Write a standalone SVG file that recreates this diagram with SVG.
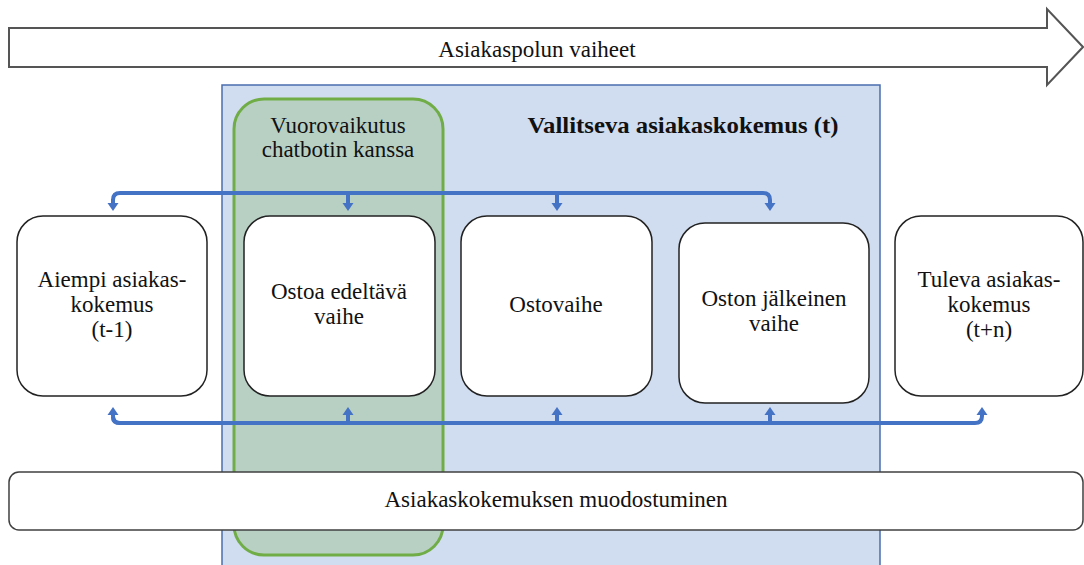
<svg xmlns="http://www.w3.org/2000/svg" width="1084" height="565" viewBox="0 0 1084 565">
  <defs>
    <style>
      text { font-family: "Liberation Serif", Tinos, "Times New Roman", Times, "Noto Serif", "DejaVu Serif", serif; font-size: 23px; fill: #111; text-anchor: middle; }
      .bold { font-weight: bold; font-size: 24px; }
      .node rect { fill: #ffffff; stroke: #222222; stroke-width: 1.5; }
      .conn { fill: none; stroke: #4472C4; stroke-width: 4; stroke-linejoin: round; }
    </style>
    <marker id="ah" markerUnits="userSpaceOnUse" markerWidth="10" markerHeight="12" refX="0" refY="6" orient="auto">
      <path d="M0,0.5 L8,6 L0,11.5 z" fill="#4472C4"/>
    </marker>
  </defs>

  <g id="phases-arrow">
    <polygon points="9,28 1047,28 1047,9 1083,47 1047,85 1047,67 9,67" fill="#ffffff" stroke="#555555" stroke-width="2"/>
    <text x="537" y="57">Asiakaspolun vaiheet</text>
  </g>

  <g id="current-experience">
    <rect x="222" y="85" width="658" height="490" fill="#D0DCEF" stroke="#4A6DAF" stroke-width="1.5"/>
    <text class="bold" x="683" y="133" textLength="311" lengthAdjust="spacingAndGlyphs">Vallitseva asiakaskokemus (t)</text>
  </g>

  <g id="chatbot-interaction">
    <rect x="234" y="99" width="209" height="456" rx="30" fill="#B8D0C4" stroke="#70AD47" stroke-width="3"/>
    <text x="338" y="133">Vuorovaikutus</text>
    <text x="338" y="157">chatbotin kanssa</text>
  </g>

  <g id="connectors">
    <path class="conn" d="M113,203 L113,200 Q113,193 120,193 L763,193 Q770,193 770,200 L770,203" marker-end="url(#ah)"/>
    <path class="conn" d="M113,199 L113,203" marker-end="url(#ah)"/>
    <path class="conn" d="M348,193 L348,203" marker-end="url(#ah)"/>
    <path class="conn" d="M557,193 L557,203" marker-end="url(#ah)"/>
    <path class="conn" d="M120,423 Q113,423 113,416 L113,415" marker-end="url(#ah)"/>
    <path class="conn" d="M113,417 Q113,423 120,423 L975,423 Q982,423 982,416 L982,415" marker-end="url(#ah)"/>
    <path class="conn" d="M348,423 L348,415" marker-end="url(#ah)"/>
    <path class="conn" d="M557,423 L557,415" marker-end="url(#ah)"/>
    <path class="conn" d="M770,423 L770,415" marker-end="url(#ah)"/>
  </g>

  <g id="node-aiempi" class="node">
    <rect x="17" y="216" width="190" height="180" rx="26"/>
    <text x="112" y="287">Aiempi asiakas-</text>
    <text x="112" y="312">kokemus</text>
    <text x="112" y="337">(t-1)</text>
  </g>

  <g id="node-ostoa-edeltava" class="node">
    <rect x="244" y="216" width="191" height="180" rx="26"/>
    <text x="339" y="299">Ostoa edeltävä</text>
    <text x="339" y="324">vaihe</text>
  </g>

  <g id="node-ostovaihe" class="node">
    <rect x="461" y="216" width="191" height="180" rx="26"/>
    <text x="556" y="312">Ostovaihe</text>
  </g>

  <g id="node-oston-jalkeinen" class="node">
    <rect x="679" y="223" width="190" height="180" rx="26"/>
    <text x="774" y="306">Oston jälkeinen</text>
    <text x="774" y="331">vaihe</text>
  </g>

  <g id="node-tuleva" class="node">
    <rect x="895" y="216" width="188" height="180" rx="26"/>
    <text x="989" y="287">Tuleva asiakas-</text>
    <text x="989" y="312">kokemus</text>
    <text x="989" y="337">(t+n)</text>
  </g>

  <g id="formation-bar">
    <rect x="9" y="472" width="1074" height="58" rx="10" fill="#ffffff" stroke="#404040" stroke-width="1.5"/>
    <text x="556" y="507">Asiakaskokemuksen muodostuminen</text>
  </g>
</svg>
